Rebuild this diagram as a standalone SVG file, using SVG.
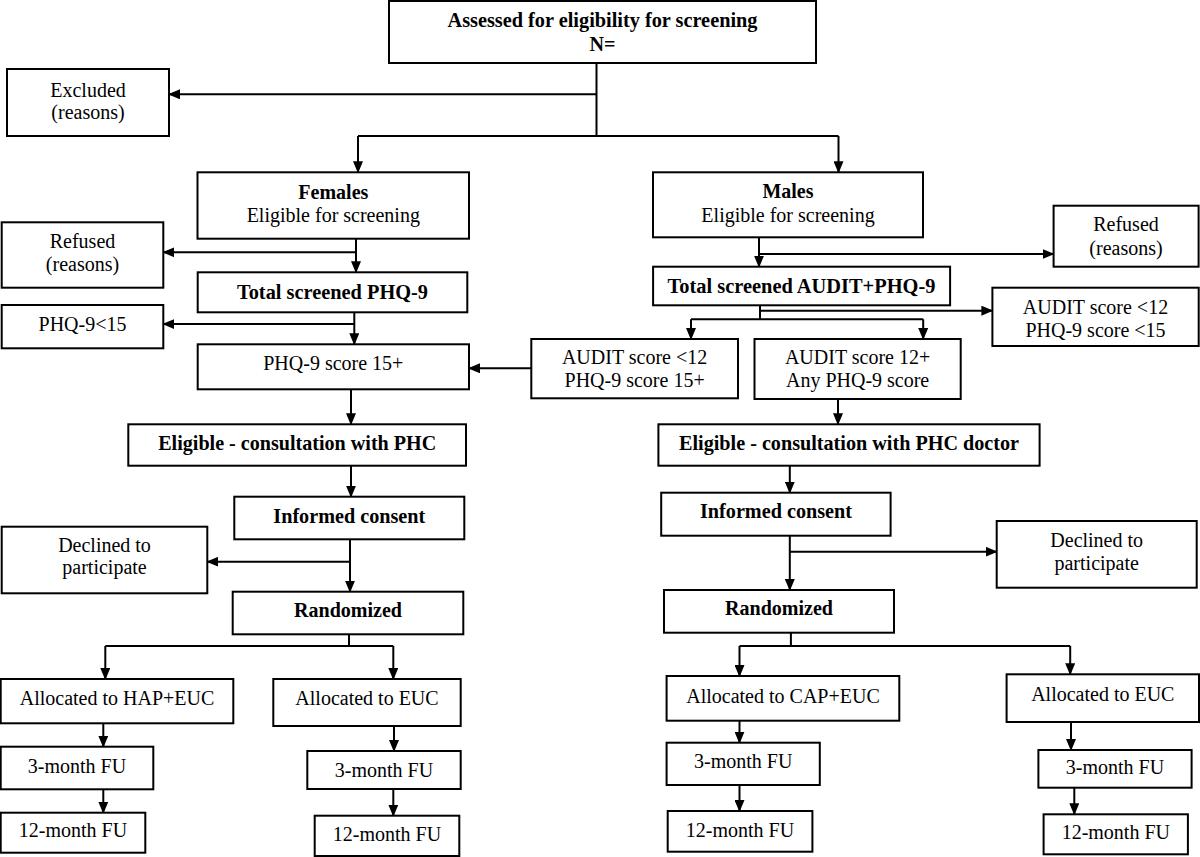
<svg xmlns="http://www.w3.org/2000/svg" width="1200" height="857" viewBox="0 0 1200 857">
<style>
rect{fill:#fff;stroke:#000;stroke-width:2}
text{font-family:"Liberation Serif","Times New Roman",serif;font-size:20px;fill:#000;text-anchor:middle}
.b{font-weight:bold;font-size:22px}
.h{font-size:21px}
.c path{fill:none;stroke:#000;stroke-width:2}
.a{marker-end:url(#ah)}
</style>
<defs>
<marker id="ah" markerUnits="userSpaceOnUse" markerWidth="12" markerHeight="10" refX="11" refY="5" orient="auto" viewBox="0 0 12 10">
<path d="M0,0 L12,5 L0,10 z" fill="#000"/>
</marker>
</defs>
<rect width="1200" height="857" style="stroke:none"/>
<g class="c" id="connectors">
<path d="M596.5,63 V136"/>
<path class="a" d="M596.5,94.3 H169"/>
<path d="M358,136 H838.5"/>
<path class="a" d="M358,136 V172.3"/>
<path class="a" d="M838.5,136 V172.3"/>
<path class="a" d="M356,238.7 V272.3"/>
<path class="a" d="M356,252.3 H163.3"/>
<path class="a" d="M354.3,312.3 V344.3"/>
<path class="a" d="M354.3,324 H163.3"/>
<path class="a" d="M351,389.3 V424.3"/>
<path class="a" d="M531.3,368.3 H469"/>
<path class="a" d="M351,465.7 V496.7"/>
<path class="a" d="M350,539.3 V591.7"/>
<path class="a" d="M350,561.7 H207.3"/>
<path d="M349,634.3 V646 M105.3,646 H393.3"/>
<path class="a" d="M105.3,646 V679"/>
<path class="a" d="M393.3,646 V679"/>
<path class="a" d="M103.3,723.3 V746.7"/>
<path class="a" d="M103.3,789.3 V812.7"/>
<path class="a" d="M394,726 V751"/>
<path class="a" d="M393.3,789 V815.7"/>
<path class="a" d="M759,237.3 V266.7"/>
<path class="a" d="M759,254 H1053.6"/>
<path d="M760,305.3 V319.3 M691,319.3 H923.2"/>
<path class="a" d="M691,319.3 V339"/>
<path class="a" d="M923.2,319.3 V339"/>
<path class="a" d="M760,310.7 H992.4"/>
<path class="a" d="M838,399 V424.3"/>
<path class="a" d="M789.8,465.7 V492.7"/>
<path class="a" d="M789.8,535.7 V590"/>
<path class="a" d="M789.8,551.7 H996.7"/>
<path d="M790.9,632.7 V646 M739.5,646 H1070.2"/>
<path class="a" d="M739.5,646 V676"/>
<path class="a" d="M1070.2,646 V674.3"/>
<path class="a" d="M739.5,720.7 V742.7"/>
<path class="a" d="M739.5,785 V811"/>
<path class="a" d="M1071,722 V750"/>
<path class="a" d="M1074.3,787.7 V814.3"/>
</g>
<g id="assessed"><rect x="389" y="1" width="427" height="62"/><text class="b h" x="602.5" y="27" textLength="310" lengthAdjust="spacingAndGlyphs">Assessed for eligibility for screening</text><text class="b h" x="602.5" y="51" textLength="26" lengthAdjust="spacingAndGlyphs">N=</text></g>
<g id="excluded"><rect x="7" y="69" width="162" height="67"/><text x="88" y="97">Excluded</text><text x="88" y="119">(reasons)</text></g>
<g id="females"><rect x="197.5" y="172.3" width="271.5" height="66.4"/><text class="b" x="333.3" y="198.5" textLength="70" lengthAdjust="spacingAndGlyphs">Females</text><text x="333.3" y="221.7">Eligible for screening</text></g>
<g id="refused-f"><rect x="1.7" y="222.3" width="161.6" height="65.4"/><text x="82.5" y="248.3">Refused</text><text x="82.5" y="271">(reasons)</text></g>
<g id="total-phq"><rect x="197.7" y="272.3" width="269.6" height="40"/><text class="b" x="332.5" y="298.5" textLength="191" lengthAdjust="spacingAndGlyphs">Total screened PHQ-9</text></g>
<g id="phq-lt15"><rect x="1.7" y="305" width="161.6" height="43.3"/><text x="82.5" y="331">PHQ-9&lt;15</text></g>
<g id="phq-15plus"><rect x="197.7" y="344.3" width="271.3" height="45"/><text x="333.3" y="370">PHQ-9 score 15+</text></g>
<g id="eligible-f"><rect x="128.3" y="424.3" width="337.7" height="41.4"/><text class="b" x="297.2" y="450" textLength="278" lengthAdjust="spacingAndGlyphs">Eligible - consultation with PHC</text></g>
<g id="consent-f"><rect x="234.3" y="496.7" width="230" height="42.6"/><text class="b" x="349.3" y="522.7" textLength="152" lengthAdjust="spacingAndGlyphs">Informed consent</text></g>
<g id="declined-f"><rect x="1.7" y="526.7" width="205.6" height="66.6"/><text x="104.5" y="551.7">Declined to</text><text x="104.5" y="574">participate</text></g>
<g id="random-f"><rect x="232.7" y="591.7" width="230.6" height="42.6"/><text class="b" x="348" y="617.3" textLength="108" lengthAdjust="spacingAndGlyphs">Randomized</text></g>
<g id="hap"><rect x="0.7" y="679" width="232.6" height="44.3"/><text x="117" y="705">Allocated to HAP+EUC</text></g>
<g id="euc-f"><rect x="273.3" y="679" width="187.4" height="47"/><text x="367" y="705">Allocated to EUC</text></g>
<g id="fu3-hap"><rect x="0.7" y="746.7" width="152.6" height="42.6"/><text x="77" y="772.7">3-month FU</text></g>
<g id="fu12-hap"><rect x="0.7" y="812.7" width="144.6" height="40"/><text x="73" y="837.3">12-month FU</text></g>
<g id="fu3-euc-f"><rect x="307.3" y="751" width="153.4" height="38"/><text x="384" y="776.7">3-month FU</text></g>
<g id="fu12-euc-f"><rect x="314.7" y="815.7" width="144.6" height="40.3"/><text x="387" y="840.7">12-month FU</text></g>
<g id="males"><rect x="653" y="172.3" width="270" height="65"/><text class="b" x="788" y="198.3" textLength="51" lengthAdjust="spacingAndGlyphs">Males</text><text x="788" y="221.7">Eligible for screening</text></g>
<g id="refused-m"><rect x="1053.6" y="205.7" width="145" height="61"/><text x="1126" y="230.7">Refused</text><text x="1126" y="255">(reasons)</text></g>
<g id="total-audit"><rect x="653.1" y="266.7" width="297" height="38.6"/><text class="b" x="801.5" y="292.7" textLength="268" lengthAdjust="spacingAndGlyphs">Total screened AUDIT+PHQ-9</text></g>
<g id="audit-low"><rect x="992.4" y="287.7" width="206.3" height="58.3"/><text x="1095.5" y="314">AUDIT score &lt;12</text><text x="1095.5" y="336.7">PHQ-9 score &lt;15</text></g>
<g id="audit-phq15"><rect x="531.3" y="339" width="206.7" height="59.3"/><text x="634.6" y="364">AUDIT score &lt;12</text><text x="634.6" y="387.3">PHQ-9 score 15+</text></g>
<g id="audit12"><rect x="754.5" y="339" width="206.2" height="60"/><text x="857.6" y="364">AUDIT score 12+</text><text x="857.6" y="387.3">Any PHQ-9 score</text></g>
<g id="eligible-m"><rect x="658.4" y="424.3" width="381.2" height="41.4"/><text class="b" x="849" y="450" textLength="340" lengthAdjust="spacingAndGlyphs">Eligible - consultation with PHC doctor</text></g>
<g id="consent-m"><rect x="661.2" y="492.7" width="229.4" height="43"/><text class="b" x="776" y="518.3" textLength="152" lengthAdjust="spacingAndGlyphs">Informed consent</text></g>
<g id="declined-m"><rect x="996.7" y="521" width="200" height="66.7"/><text x="1096.7" y="546.7">Declined to</text><text x="1096.7" y="570">participate</text></g>
<g id="random-m"><rect x="664" y="590" width="230" height="42.7"/><text class="b" x="779" y="615" textLength="108" lengthAdjust="spacingAndGlyphs">Randomized</text></g>
<g id="cap"><rect x="666.6" y="676" width="232.7" height="44.7"/><text x="783" y="702.7">Allocated to CAP+EUC</text></g>
<g id="euc-m"><rect x="1006.6" y="674.3" width="192.4" height="47.7"/><text x="1102.8" y="701">Allocated to EUC</text></g>
<g id="fu3-cap"><rect x="666.6" y="742.7" width="153.2" height="42.3"/><text x="743.2" y="767.7">3-month FU</text></g>
<g id="fu12-cap"><rect x="667.7" y="811" width="144.7" height="40.7"/><text x="740" y="836.7">12-month FU</text></g>
<g id="fu3-euc-m"><rect x="1038.4" y="750" width="153.2" height="37.7"/><text x="1115" y="774.3">3-month FU</text></g>
<g id="fu12-euc-m"><rect x="1043.6" y="814.3" width="144.3" height="40"/><text x="1115.8" y="839.3">12-month FU</text></g>
</svg>
